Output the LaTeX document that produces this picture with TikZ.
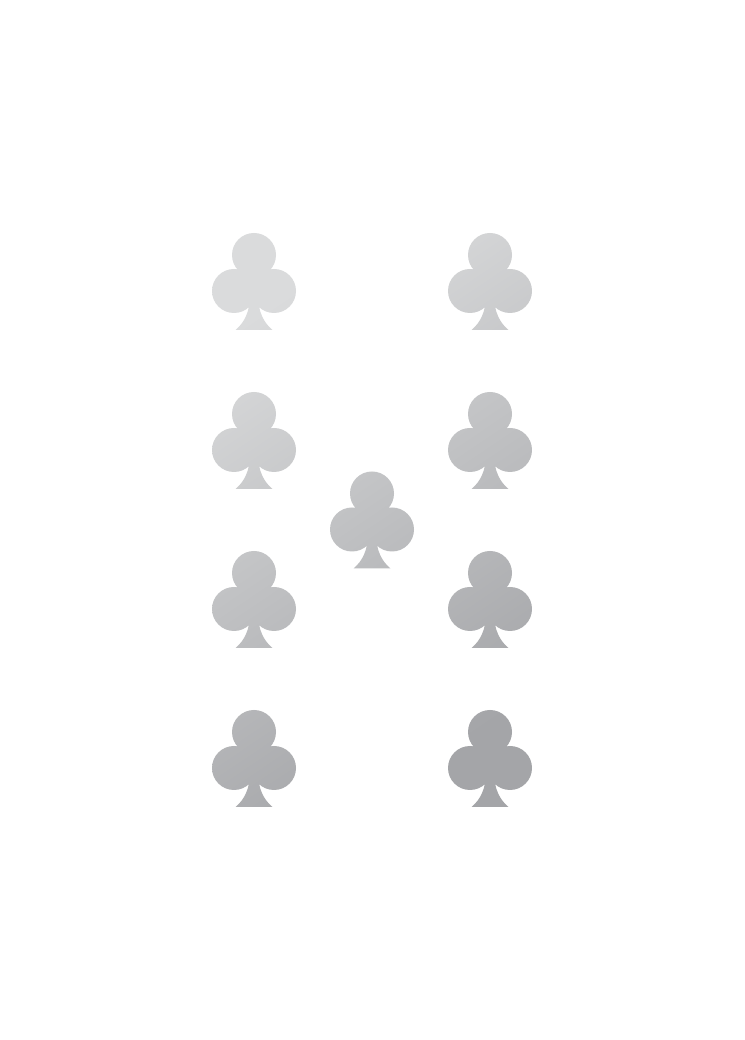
\documentclass[tikz,border=0pt]{standalone}
\definecolor{clublight}{HTML}{DADBDC}
\definecolor{clubdark}{HTML}{A4A5A8}
\begin{document}
\begin{tikzpicture}[x=0.75pt,y=0.75pt]
\useasboundingbox (0,0) rectangle (744,1040);
\fill[white] (0,0) rectangle (744,1040);
\begin{scope}
\clip \foreach \cx/\cy in {254/0,490/0,254/159,490/159,372/238.5,254/318,490/318,254/477,490/477}{
  ({\cx},{785-\cy}) circle[radius=22]
  ({\cx-20},{749-\cy}) circle[radius=22]
  ({\cx+20},{749-\cy}) circle[radius=22]
  ({\cx-4},{745-\cy}) .. controls ({\cx-4},{728-\cy}) and ({\cx-10},{717-\cy}) .. ({\cx-18.5},{710-\cy})
  -- ({\cx+18.5},{710-\cy}) .. controls ({\cx+10},{717-\cy}) and ({\cx+4},{728-\cy}) .. ({\cx+4},{745-\cy})
  -- ({\cx+4},{770-\cy}) -- ({\cx-4},{770-\cy}) -- cycle
};
\shade[shading=axis,left color=clublight,right color=clubdark,shading angle=34] (212,233) rectangle (532,807);
\end{scope}
\end{tikzpicture}
\end{document}
